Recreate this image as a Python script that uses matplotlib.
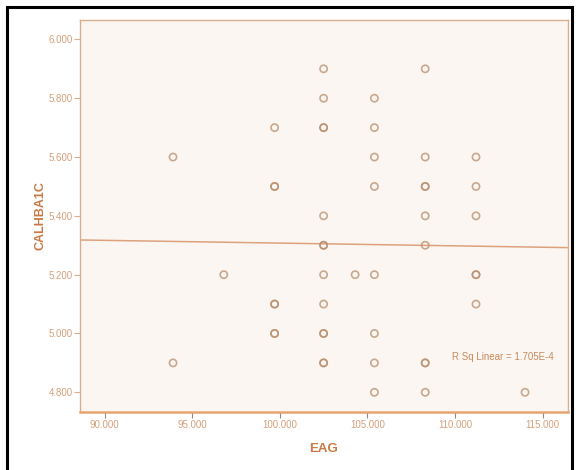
import numpy as np
import matplotlib.pyplot as plt
from matplotlib.patches import Rectangle

# EAG values (x) and CALHBA1C values (y), duplicates kept
eag = [93.9, 93.9,
       96.8,
       99.7, 99.7, 99.7, 99.7, 99.7, 99.7, 99.7,
       102.5, 102.5, 102.5, 102.5, 102.5, 102.5, 102.5, 102.5, 102.5, 102.5, 102.5, 102.5, 102.5,
       104.3,
       105.4, 105.4, 105.4, 105.4, 105.4, 105.4, 105.4, 105.4,
       108.3, 108.3, 108.3, 108.3, 108.3, 108.3, 108.3, 108.3, 108.3,
       111.2, 111.2, 111.2, 111.2, 111.2, 111.2,
       114.0]
calhba1c = [5.6, 4.9,
            5.2,
            5.7, 5.5, 5.5, 5.1, 5.1, 5.0, 5.0,
            5.9, 5.8, 5.7, 5.7, 5.4, 5.3, 5.3, 5.2, 5.1, 5.0, 5.0, 4.9, 4.9,
            5.2,
            5.8, 5.7, 5.6, 5.5, 5.2, 5.0, 4.9, 4.8,
            5.9, 5.6, 5.5, 5.5, 5.4, 5.3, 4.9, 4.9, 4.8,
            5.6, 5.5, 5.4, 5.2, 5.2, 5.1,
            4.8]

# fit line
fit_ends_x = [88.6, 116.4]
fit_ends_y = [5.318, 5.292]
rsq_text = "R Sq Linear = 1.705E-4"

xticks = [90, 95, 100, 105, 110, 115]
yticks = [4.8, 5.0, 5.2, 5.4, 5.6, 5.8, 6.0]

tick_col = "#D4A07C"
label_col = "#C97A45"
frame_col = "#D7AE8E"

plt.rcParams['font.family'] = ['Liberation Sans', 'DejaVu Sans']

fig = plt.figure(figsize=(5.76, 4.70), dpi=100)
fig.patches.append(Rectangle((6.5 / 576, -0.1), 565.5 / 576, 1.1 - 7 / 470,
                             transform=fig.transFigure, fill=False,
                             edgecolor="black", linewidth=2.2))

ax = fig.add_axes([80 / 576, (470 - 412) / 470, 487.6 / 576, 392 / 470])
ax.set_facecolor("#FBF6F1")

ax.plot(fit_ends_x, fit_ends_y, color="#DDA27C", linewidth=1.1, zorder=2)
ax.scatter(eag, calhba1c, s=27, facecolors="none", edgecolors="#B88E6C",
           linewidths=1.2, alpha=0.75, zorder=3)

ax.set_xlim(88.59, 116.43)
ax.set_ylim(4.733, 6.066)
ax.set_xticks(xticks)
ax.set_xticklabels(["%.3f" % v for v in xticks])
ax.set_yticks(yticks)
ax.set_yticklabels(["%.3f" % v for v in yticks])

for side in ["top", "right", "left"]:
    ax.spines[side].set_color(frame_col)
    ax.spines[side].set_linewidth(1.0)
ax.spines["bottom"].set_color("#E8A46E")
ax.spines["bottom"].set_linewidth(1.8)

ax.tick_params(axis="y", direction="out", length=4, width=0.8, color=frame_col,
               labelsize=7, labelcolor=tick_col, pad=1)
ax.tick_params(axis="x", direction="out", length=4, width=0.8, color="#9A8878",
               labelsize=7, labelcolor=tick_col, pad=2)

ax.set_xlabel("EAG", fontsize=9.5, fontweight="bold", color=label_col, labelpad=9)
ax.set_ylabel("CALHBA1C", fontsize=9, fontweight="bold", color=label_col, labelpad=2)

ax.text(0.972, 0.14, rsq_text, transform=ax.transAxes, ha="right", va="center",
        fontsize=7, color="#C98A5C")

fig.savefig("out.png", dpi=100)
